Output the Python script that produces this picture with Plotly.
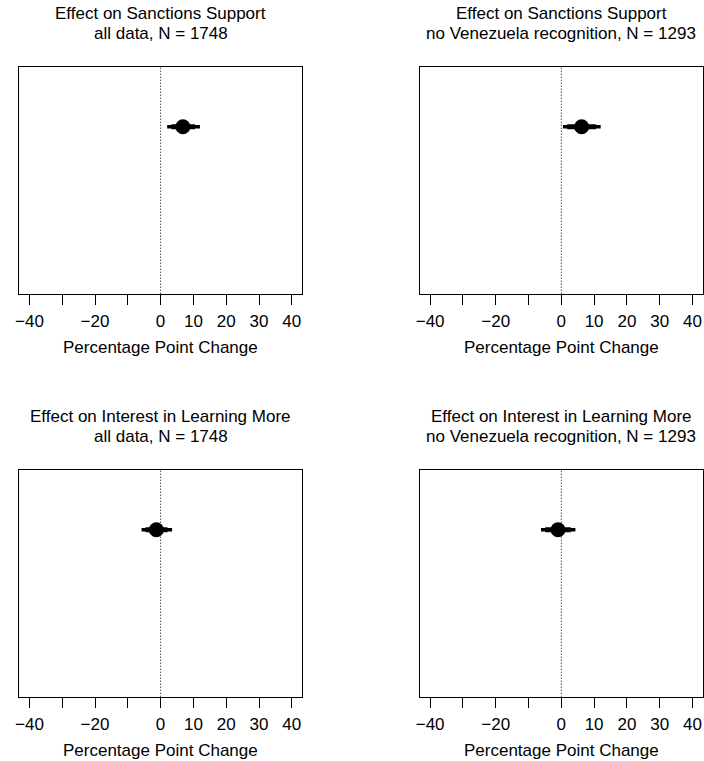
import plotly.graph_objects as go

# Panel titles (outcome, sample)
outcomes = ["Effect on Sanctions Support", "Effect on Sanctions Support",
            "Effect on Interest in Learning More", "Effect on Interest in Learning More"]
samples = ["all data, N = 1748", "no Venezuela recognition, N = 1293",
           "all data, N = 1748", "no Venezuela recognition, N = 1293"]

# Treatment effect estimates (percentage points) with 95% and 90% intervals
estimate = [6.8, 6.2, -1.3, -1.0]
lo95 = [2.0, 0.5, -5.8, -6.2]
hi95 = [12.0, 12.0, 3.5, 4.3]
lo90 = [3.3, 1.8, -4.6, -4.9]
hi90 = [10.5, 10.6, 2.1, 2.9]

tick_vals = [-40, -30, -20, -10, 0, 10, 20, 30, 40]
tick_text = ["\u221240", "", "\u221220", "", "0", "10", "20", "30", "40"]
x_title = "Percentage Point Change"

W, H = 704, 761
FONT = "Liberation Sans, Arial, Helvetica, sans-serif"
FS = 17

# panel boxes in pixels: (left, right, top, bottom)
boxes = [(15, 300, 66.7, 293.7), (418, 703, 66.7, 293.7),
         (15, 300, 469.7, 696.7), (418, 703, 469.7, 696.7)]

fig = go.Figure()
layout = dict(width=W, height=H, margin=dict(l=0, r=0, t=0, b=0),
              paper_bgcolor="white", plot_bgcolor="white", showlegend=False,
              font=dict(family=FONT, size=FS, color="black"))
annotations = []
shapes = []

for i in range(4):
    l, r, t, b = boxes[i]
    xa = "xaxis" if i == 0 else f"xaxis{i+1}"
    ya = "yaxis" if i == 0 else f"yaxis{i+1}"
    xr = "x" if i == 0 else f"x{i+1}"
    yr = "y" if i == 0 else f"y{i+1}"
    layout[xa] = dict(domain=[l / W, r / W], range=[-43.2, 43.2], anchor=yr,
                      showline=True, mirror=True, linecolor="black", linewidth=1,
                      showgrid=False, zeroline=False, ticks="outside", ticklen=10,
                      tickwidth=1, tickcolor="black", tickvals=tick_vals,
                      ticktext=tick_text, tickfont=dict(size=FS, family=FONT),
                      ticklabelstandoff=2, fixedrange=True)
    layout[ya] = dict(domain=[1 - b / H, 1 - t / H], range=[0.0, 1.36], anchor=xr,
                      showline=True, mirror=True, linecolor="black", linewidth=1,
                      showgrid=False, zeroline=False, showticklabels=False,
                      ticks="", fixedrange=True)
    # dotted reference line at zero
    shapes.append(dict(type="line", xref=xr, yref=f"{yr} domain", x0=0, x1=0,
                       y0=0, y1=1, line=dict(color="black", width=1, dash="1px,2px")))
    # 95% interval
    fig.add_trace(go.Scatter(x=[lo95[i], hi95[i]], y=[1, 1], mode="lines",
                             line=dict(color="black", width=3.5), xaxis=xr, yaxis=yr,
                             hoverinfo="skip"))
    # 90% interval
    fig.add_trace(go.Scatter(x=[lo90[i], hi90[i]], y=[1, 1], mode="lines",
                             line=dict(color="black", width=5), xaxis=xr, yaxis=yr,
                             hoverinfo="skip"))
    # point estimate
    fig.add_trace(go.Scatter(x=[estimate[i]], y=[1], mode="markers",
                             marker=dict(color="black", size=15, line=dict(width=0)),
                             xaxis=xr, yaxis=yr))
    cx = (l + r) / 2 / W
    annotations.append(dict(text=outcomes[i], x=cx, y=1 - (t - 53) / H,
                            xref="paper", yref="paper", xanchor="center",
                            yanchor="middle", showarrow=False,
                            font=dict(size=FS, family=FONT)))
    annotations.append(dict(text=samples[i], x=cx, y=1 - (t - 33) / H,
                            xref="paper", yref="paper", xanchor="center",
                            yanchor="middle", showarrow=False,
                            font=dict(size=FS, family=FONT)))
    annotations.append(dict(text=x_title, x=cx, y=1 - (b + 54) / H, xref="paper",
                            yref="paper", xanchor="center", yanchor="middle",
                            showarrow=False, font=dict(size=FS, family=FONT)))

layout["annotations"] = annotations
layout["shapes"] = shapes
fig.update_layout(**layout)
fig.write_html("out.html")
